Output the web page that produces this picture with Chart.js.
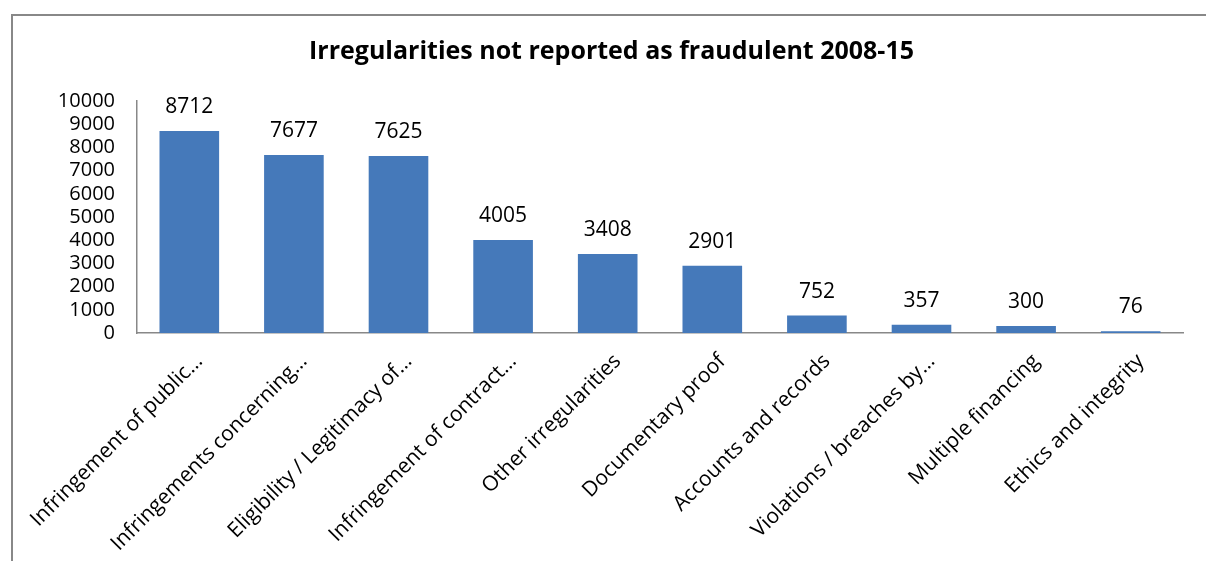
<!DOCTYPE html>
<html>
<head>
<meta charset="utf-8">
<script src="https://cdn.jsdelivr.net/npm/chart.js@4/dist/chart.umd.min.js"></script>
<style>
  html, body { margin: 0; padding: 0; background: #fff; }
  body { width: 1206px; height: 561px; overflow: hidden; position: relative; }
  #frame { position: absolute; left: 11px; top: 14px; width: 1300px; height: 700px;
           border: 2px solid #888; box-sizing: border-box; }
  #wrap { position: absolute; left: 0; top: 0; width: 1206px; height: 561px; }
</style>
</head>
<body>
<div id="frame"></div>
<div id="wrap"><canvas id="irregularities"></canvas></div>
<script>
  const categories = [
    'Infringement of public…',
    'Infringements concerning…',
    'Eligibility / Legitimacy of…',
    'Infringement of contract…',
    'Other irregularities',
    'Documentary proof',
    'Accounts and records',
    'Violations / breaches by…',
    'Multiple financing',
    'Ethics and integrity'
  ];
  const counts = [8712, 7677, 7625, 4005, 3408, 2901, 752, 357, 300, 76];
  const yTicks = [0, 1000, 2000, 3000, 4000, 5000, 6000, 7000, 8000, 9000, 10000];

  const FONT = "'Open Sans', sans-serif";

  // writes the count above every bar
  const valueLabels = {
    id: 'valueLabels',
    afterDatasetsDraw(chart) {
      const ctx = chart.ctx;
      const meta = chart.getDatasetMeta(0);
      ctx.save();
      ctx.font = '21px ' + FONT;
      ctx.fillStyle = '#000';
      ctx.textAlign = 'center';
      ctx.textBaseline = 'alphabetic';
      meta.data.forEach((bar, i) => {
        ctx.fillText(String(chart.data.datasets[0].data[i]), bar.x, bar.y - 18);
      });
      ctx.restore();
    }
  };

  new Chart(document.getElementById('irregularities'), {
    type: 'bar',
    data: {
      labels: categories,
      datasets: [{
        data: counts,
        backgroundColor: '#4579BA',
        borderWidth: 0,
        categoryPercentage: 1,
        barPercentage: 0.57
      }]
    },
    options: {
      responsive: true,
      maintainAspectRatio: false,
      animation: false,
      layout: { padding: { left: 40, right: 23, top: 0, bottom: 0 } },
      plugins: {
        legend: { display: false },
        tooltip: { enabled: false },
        title: {
          display: true,
          text: 'Irregularities not reported as fraudulent 2008-15',
          color: '#000',
          font: { family: FONT, size: 25, weight: 'bold' },
          padding: { top: 37, bottom: 34 }
        }
      },
      scales: {
        x: {
          grid: { display: false, drawTicks: false },
          border: { display: true, color: '#888', width: 1.5 },
          ticks: {
            autoSkip: false,
            maxRotation: 45,
            minRotation: 45,
            padding: 16,
            labelOffset: 10,
            color: '#000',
            font: { family: FONT, size: 21 }
          },
          afterFit(scale) { scale.height = 228; }
        },
        y: {
          min: 0,
          max: 10000,
          afterBuildTicks(scale) { scale.ticks = yTicks.map(v => ({ value: v })); },
          grid: { display: false, drawTicks: false },
          border: { display: true, color: '#888', width: 1.5 },
          ticks: {
            autoSkip: false,
            padding: 22,
            color: '#000',
            font: { family: FONT, size: 20 },
            callback: v => String(v)
          },
          afterFit(scale) { scale.width = 97; }
        }
      }
    },
    plugins: [valueLabels]
  });
</script>
</body>
</html>
